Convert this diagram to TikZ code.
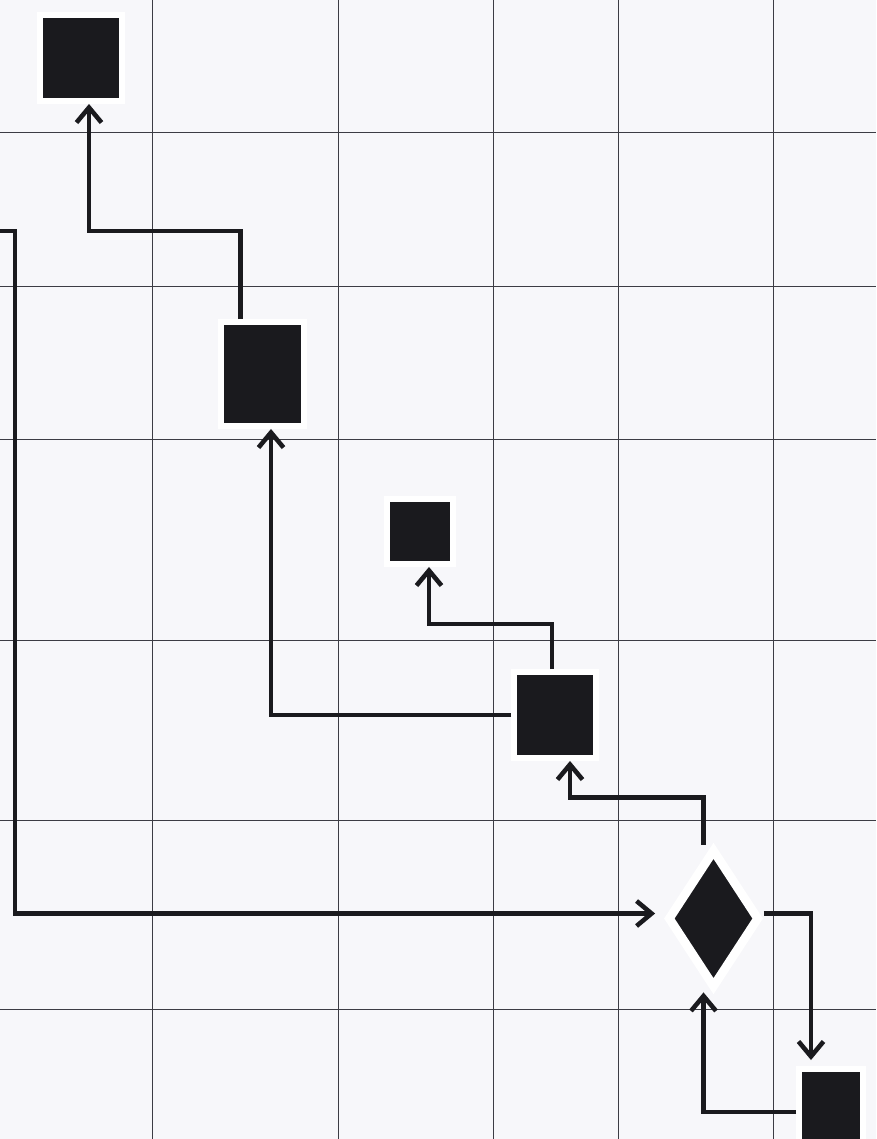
\documentclass[tikz,border=0pt]{standalone}
\usetikzlibrary{arrows.meta,positioning,calc,shapes.geometric}
\definecolor{ink}{HTML}{1A1A1E}
\definecolor{paper}{HTML}{F7F7FA}
\definecolor{rule}{HTML}{3C3C44}
\tikzset{blk/.style={draw=white,fill=ink,line width=3.4pt,inner sep=0pt},
 dec/.style={diamond,draw=white,fill=ink,line width=5pt,inner sep=0pt},
 gridline/.style={draw=rule,line width=0.55pt},
 link/.style={-{Straight Barb[length=3mm,width=5mm]},draw=ink,line width=2.6pt}}
\begin{document}
\begin{tikzpicture}[x=0.02cm,y=-0.02cm]
\fill[paper] (0,0) rectangle (876,1139);
\useasboundingbox (0,0) rectangle (876,1139);
\clip (0,0) rectangle (876,1139);
\foreach \gx in {152,338,493,618,773} \draw[gridline] (\gx,0) -- (\gx,1139);
\foreach \gy in {132,286,439,640,820,1009} \draw[gridline] (0,\gy) -- (876,\gy);
\node[blk,minimum width=1.64cm,minimum height=1.72cm] (goal) at (81,58) {};
\node[blk,minimum width=1.66cm,minimum height=2.08cm] (stage) at (262.5,374) {};
\node[blk,minimum width=1.32cm,minimum height=1.3cm] (note) at (420,531.5) {};
\node[blk,minimum width=1.64cm,minimum height=1.72cm] (hub) at (555,715) {};
\node[dec,minimum width=1.84cm,minimum height=2.78cm] (check) at (713.5,918.5) {};
\node[blk,minimum width=1.28cm,minimum height=1.72cm] (out) at (831,1112) {};
\coordinate (feed) at (0,231);
\draw[link] ($(stage.north)+(-22,0)$) -- ++(0,-88) -| ($(goal.south)+(8,0)$);
\draw[link] (feed) -- ++(15,0) |- ($(check.west)+(-8,-5)$);
\draw[link] (hub.west) -| ($(stage.south)+(8.5,0)$);
\draw[link] ($(hub.north)+(-3,0)$) -- ++(0,-45) -| ($(note.south)+(9,0)$);
\draw[link] ($(check.north)+(-10,0)$) -- ++(0,-47) -| ($(hub.south)+(15,0)$);
\draw[link] ($(check.east)+(0,-5)$) -| ($(out.north)+(-20,-6)$);
\draw[link] (out.west) -| ($(check.south)+(-10,0)$);
\end{tikzpicture}
\end{document}
